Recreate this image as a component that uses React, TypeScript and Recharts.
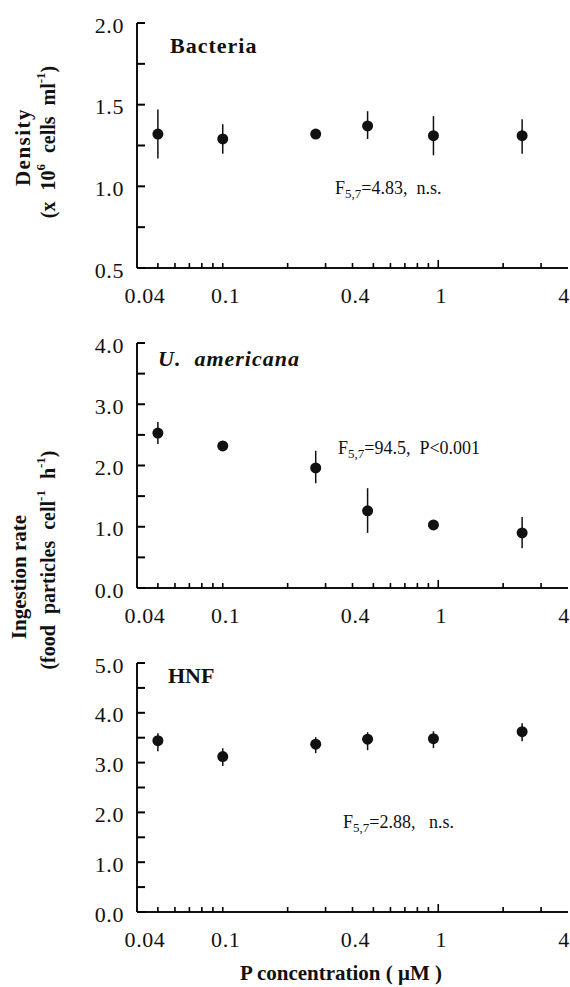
import React from "react";
import { ScatterChart, Scatter, XAxis, YAxis, ErrorBar } from "recharts";

const FONT = '"Liberation Serif", "Times New Roman", serif';
const INK = "#111";

// P concentration (uM) of the six treatments
const pConc = [0.05, 0.1, 0.27, 0.47, 0.95, 2.45];

// Bacteria density (x 10^6 cells/ml), with error bar ends
const bacteria = [1.32, 1.29, 1.32, 1.37, 1.31, 1.31];
const bacteriaLow = [1.17, 1.2, 1.3, 1.29, 1.19, 1.2];
const bacteriaHigh = [1.47, 1.38, 1.34, 1.46, 1.43, 1.41];

// U. americana ingestion rate
const uAmericana = [2.53, 2.32, 1.96, 1.26, 1.03, 0.9];
const uAmericanaLow = [2.35, 2.27, 1.71, 0.9, 0.98, 0.65];
const uAmericanaHigh = [2.71, 2.37, 2.24, 1.63, 1.08, 1.16];

// HNF ingestion rate
const hnf = [3.44, 3.12, 3.37, 3.47, 3.48, 3.62];
const hnfLow = [3.23, 2.93, 3.19, 3.25, 3.29, 3.43];
const hnfHigh = [3.59, 3.29, 3.51, 3.61, 3.63, 3.79];

const xLabelTicks = [0.04, 0.1, 0.4, 1, 4];
const xLabels = ["0.04", "0.1", "0.4", "1", "4"];
const xMinorTicks = [0.05, 0.06, 0.07, 0.08, 0.09, 0.2, 0.3, 0.5, 0.6, 0.7, 0.8, 0.9, 2, 3];
const xTicks = [...xLabelTicks, ...xMinorTicks].sort((a, b) => a - b);

const densityTicks = [0.5, 0.75, 1, 1.25, 1.5, 1.75, 2];
const densityLabels = [0.5, 1, 1.5, 2];
const uTicks = [0, 0.5, 1, 1.5, 2, 2.5, 3, 3.5, 4];
const uLabels = [0, 1, 2, 3, 4];
const hnfTicks = [0, 0.5, 1, 1.5, 2, 2.5, 3, 3.5, 4, 4.5, 5];
const hnfLabels = [0, 1, 2, 3, 4, 5];

function XTick({ x, y, payload }: any) {
  const v = payload.value;
  const i = xLabelTicks.indexOf(v);
  const len = v === 1 ? 8 : 5;
  // labels in the original sit a little right of their ticks
  const dx = v === 0.04 ? 8 : v === 4 ? -4 : 3;
  return (
    <g>
      {v > 0.04 && v < 4 && (
        <line x1={x} x2={x} y1={y} y2={y - len} stroke="#000" strokeWidth={1.6} />
      )}
      {i >= 0 && (
        <text
          x={x + dx}
          y={y + 27}
          textAnchor="middle"
          dominantBaseline="central"
          fontFamily={FONT}
          fontSize={22}
          letterSpacing={0.6}
          fill={INK}
        >
          {xLabels[i]}
        </text>
      )}
    </g>
  );
}

// inward tick mark, label outside the axis
function YTick({ x, y, payload, labels }: any) {
  const v = payload.value;
  return (
    <g>
      <line x1={x} x2={x + 8} y1={y} y2={y} stroke="#000" strokeWidth={2} />
      {labels.includes(v) && (
        <text
          x={x - 13}
          y={y + 2}
          textAnchor="end"
          dominantBaseline="central"
          fontFamily={FONT}
          fontSize={22}
          letterSpacing={0.6}
          fill={INK}
        >
          {v.toFixed(1)}
        </text>
      )}
    </g>
  );
}

const Dot = (props: any) => <circle cx={props.cx} cy={props.cy} r={5.5} fill={INK} />;

interface PanelProps {
  top: number;
  height: number;
  values: number[];
  low: number[];
  high: number[];
  yDomain: [number, number];
  yTicks: number[];
  yLabels: number[];
}

function Panel({ top, height, values, low, high, yDomain, yTicks, yLabels }: PanelProps) {
  const data = pConc.map((p, i) => ({
    p,
    v: values[i],
    err: [values[i] - low[i], high[i] - values[i]],
  }));

  return (
    <div style={{ position: "absolute", left: 0, top, width: 570, height }}>
      <ScatterChart width={570} height={height} margin={{ top: 23, right: 2, left: 77, bottom: 2 }}>
        <XAxis
          dataKey="p"
          type="number"
          scale="log"
          domain={[0.04, 4]}
          allowDataOverflow
          ticks={xTicks}
          interval={0}
          tickSize={0}
          tickMargin={0}
          tickLine={false}
          height={40}
          tick={(props: any) => <XTick {...props} />}
          axisLine={{ stroke: INK, strokeWidth: 2 }}
        />
        <YAxis
          dataKey="v"
          type="number"
          domain={yDomain}
          allowDataOverflow
          ticks={yTicks}
          interval={0}
          tickSize={0}
          tickMargin={0}
          tickLine={false}
          width={60}
          tick={(props: any) => <YTick {...props} labels={yLabels} />}
          axisLine={{ stroke: INK, strokeWidth: 2 }}
        />
        <Scatter data={data} shape={Dot} isAnimationActive={false}>
          <ErrorBar dataKey="err" direction="y" width={0} stroke={INK} strokeWidth={1.5} />
        </Scatter>
      </ScatterChart>
    </div>
  );
}

function Sup({ children }: { children: React.ReactNode }) {
  return (
    <tspan dy={-8} fontSize={13}>
      {children}
    </tspan>
  );
}

function FStat({ x, y, text }: { x: number; y: number; text: string }) {
  return (
    <text x={x} y={y} dominantBaseline="central" fontFamily={FONT} fontSize={18} fill={INK}>
      F
      <tspan dy={5} fontSize={13} fill={INK}>
        5,7
      </tspan>
      <tspan dy={-5} style={{ whiteSpace: "pre" }}>
        {text}
      </tspan>
    </text>
  );
}

export default function App() {
  return (
    <div style={{ position: "absolute", left: 0, top: 0, width: 570, height: 987, background: "#fff" }}>
      <Panel
        top={0}
        height={310}
        values={bacteria}
        low={bacteriaLow}
        high={bacteriaHigh}
        yDomain={[0.5, 2]}
        yTicks={densityTicks}
        yLabels={densityLabels}
      />
      <Panel
        top={320}
        height={310}
        values={uAmericana}
        low={uAmericanaLow}
        high={uAmericanaHigh}
        yDomain={[0, 4]}
        yTicks={uTicks}
        yLabels={uLabels}
      />
      <Panel
        top={640}
        height={314}
        values={hnf}
        low={hnfLow}
        high={hnfHigh}
        yDomain={[0, 5]}
        yTicks={hnfTicks}
        yLabels={hnfLabels}
      />

      <svg
        width={570}
        height={987}
        style={{ position: "absolute", left: 0, top: 0, pointerEvents: "none" }}
        fontFamily={FONT}
        fill={INK}
      >
        {/* panel names */}
        <text x={170} y={45} dominantBaseline="central" fontSize={22} fontWeight="bold" letterSpacing={1}>
          Bacteria
        </text>
        <text
          x={158}
          y={358}
          dominantBaseline="central"
          fontSize={22}
          fontWeight="bold"
          fontStyle="italic"
          letterSpacing={1}
          style={{ whiteSpace: "pre" }}
        >
          {"U.  americana"}
        </text>
        <text x={168} y={675} dominantBaseline="central" fontSize={22} fontWeight="bold">
          HNF
        </text>

        <FStat x={335} y={188} text="=4.83,  n.s." />
        <FStat x={338} y={448} text="=94.5,  P<0.001" />
        <FStat x={343} y={822} text="=2.88,   n.s." />

        {/* y axis titles */}
        <text
          transform="translate(23,147) rotate(-90)"
          textAnchor="middle"
          dominantBaseline="central"
          fontSize={21}
          fontWeight="bold"
          letterSpacing={1.5}
        >
          Density
        </text>
        <text
          transform="translate(48,142) rotate(-90)"
          textAnchor="middle"
          dominantBaseline="central"
          fontSize={20}
          fontWeight="bold"
          wordSpacing={6}
        >
          (x 10<Sup>6</Sup>
          <tspan dy={8}> cells ml</tspan>
          <Sup>-1</Sup>
          <tspan dy={8}>)</tspan>
        </text>
        <text
          transform="translate(19,577) rotate(-90)"
          textAnchor="middle"
          dominantBaseline="central"
          fontSize={21}
          fontWeight="bold"
        >
          Ingestion rate
        </text>
        <text
          transform="translate(48,560) rotate(-90)"
          textAnchor="middle"
          dominantBaseline="central"
          fontSize={20}
          fontWeight="bold"
          wordSpacing={6}
        >
          (food particles cell<Sup>-1</Sup>
          <tspan dy={8}> h</tspan>
          <Sup>-1</Sup>
          <tspan dy={8}>)</tspan>
        </text>

        {/* x axis title */}
        <text x={341} y={973} textAnchor="middle" dominantBaseline="central" fontSize={21} fontWeight="bold">
          P concentration ( μM )
        </text>
      </svg>
    </div>
  );
}
